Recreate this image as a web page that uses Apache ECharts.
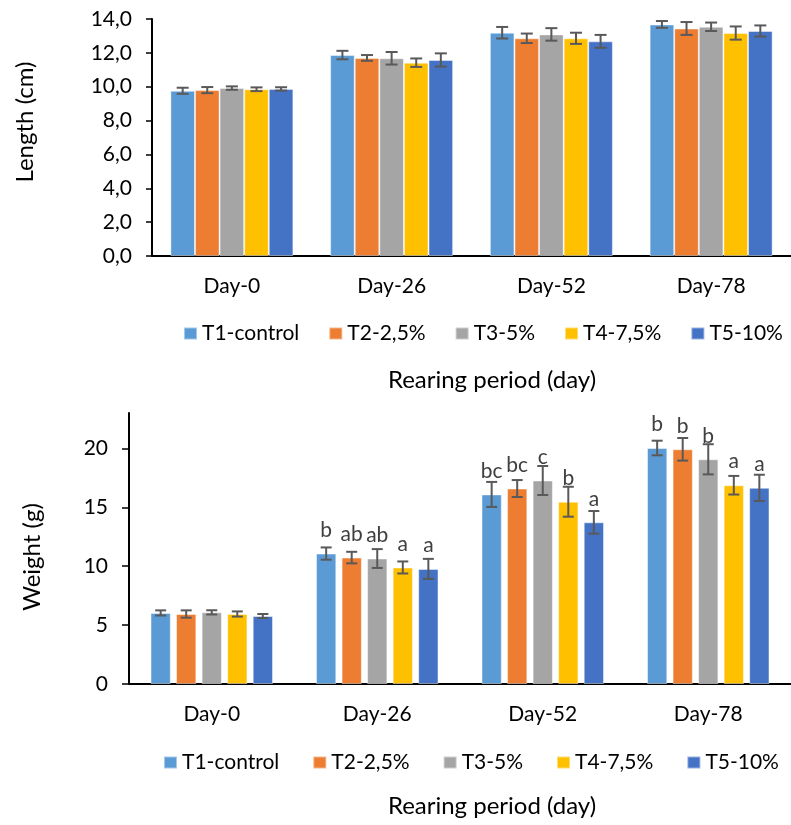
<!DOCTYPE html>
<html>
<head>
<meta charset="utf-8">
<script src="https://cdn.jsdelivr.net/npm/echarts@6/dist/echarts.min.js"></script>
<style>
  html, body { margin: 0; padding: 0; background: #fff; overflow: hidden; }
  #chart { width: 791px; height: 825px; }
</style>
</head>
<body>
<div id="chart"></div>
<script>
// ---------- DATA ----------
const categories = ['Day-0', 'Day-26', 'Day-52', 'Day-78'];
const treatments = ['T1-control', 'T2-2,5%', 'T3-5%', 'T4-7,5%', 'T5-10%'];

// Length (cm): means and error bars
const lengthT1 = [9.76, 11.87, 13.19, 13.68];
const lengthT2 = [9.80, 11.70, 12.86, 13.44];
const lengthT3 = [9.92, 11.68, 13.09, 13.54];
const lengthT4 = [9.85, 11.42, 12.86, 13.17];
const lengthT5 = [9.87, 11.58, 12.68, 13.29];
const lengthErrT1 = [0.18, 0.25, 0.34, 0.20];
const lengthErrT2 = [0.18, 0.17, 0.28, 0.38];
const lengthErrT3 = [0.10, 0.37, 0.37, 0.25];
const lengthErrT4 = [0.11, 0.25, 0.33, 0.39];
const lengthErrT5 = [0.10, 0.39, 0.38, 0.33];

// Weight (g): means and error bars
const weightT1 = [6.03, 11.07, 16.09, 20.03];
const weightT2 = [5.94, 10.73, 16.59, 19.92];
const weightT3 = [6.08, 10.65, 17.27, 19.07];
const weightT4 = [5.94, 9.89, 15.47, 16.87];
const weightT5 = [5.77, 9.77, 13.72, 16.65];
const weightErrT1 = [0.22, 0.52, 1.06, 0.62];
const weightErrT2 = [0.31, 0.49, 0.72, 0.96];
const weightErrT3 = [0.18, 0.80, 1.23, 1.28];
const weightErrT4 = [0.22, 0.51, 1.27, 0.79];
const weightErrT5 = [0.17, 0.85, 0.96, 1.11];

// Significance letters (weight)
const lettersT1 = ['', 'b', 'bc', 'b'];
const lettersT2 = ['', 'ab', 'bc', 'b'];
const lettersT3 = ['', 'ab', 'c', 'b'];
const lettersT4 = ['', 'a', 'b', 'a'];
const lettersT5 = ['', 'a', 'a', 'a'];

// Tick labels
const lengthTickValues = [0, 2, 4, 6, 8, 10, 12, 14];
const lengthTickLabels = ['0,0', '2,0', '4,0', '6,0', '8,0', '10,0', '12,0', '14,0'];
const weightTickValues = [0, 5, 10, 15, 20];
const weightTickLabels = ['0', '5', '10', '15', '20'];

const xTitle = 'Rearing period (day)';
const lengthTitle = 'Length (cm)';
const weightTitle = 'Weight (g)';

// ---------- STYLE ----------
const COLORS = ['#5B9BD5', '#ED7D31', '#A5A5A5', '#FFC000', '#4472C4'];
const FONT = 'Lato, "Noto Sans", sans-serif';
const ERR_COLOR = '#595959';

const lengthMeans = [lengthT1, lengthT2, lengthT3, lengthT4, lengthT5];
const lengthErrs = [lengthErrT1, lengthErrT2, lengthErrT3, lengthErrT4, lengthErrT5];
const weightMeans = [weightT1, weightT2, weightT3, weightT4, weightT5];
const weightErrs = [weightErrT1, weightErrT2, weightErrT3, weightErrT4, weightErrT5];
const weightLetters = [lettersT1, lettersT2, lettersT3, lettersT4, lettersT5];

const TOP = { catGap: 0.23, gap: 0, cap: 6 };
const BOT = { catGap: 0.26, gap: 0.26, cap: 5.5 };

function barSeries(s, values, axisIdx, cfg, letters) {
  const o = {
    type: 'bar',
    name: treatments[s],
    xAxisIndex: axisIdx, yAxisIndex: axisIdx,
    data: values,
    barGap: (cfg.gap * 100) + '%',
    barCategoryGap: (cfg.catGap * 100) + '%',
    itemStyle: { color: COLORS[s], borderColor: 'rgba(255,255,255,0.45)', borderWidth: 1 },
    emphasis: { disabled: true },
    animation: false
  };
  if (letters) {
    o.label = {
      show: true, position: 'top', distance: 13,
      fontFamily: FONT, fontSize: 21, color: '#404040',
      formatter: p => letters[p.dataIndex]
    };
  }
  return o;
}

function errSeries(s, means, errs, axisIdx, cfg) {
  return {
    type: 'custom',
    name: treatments[s],
    xAxisIndex: axisIdx, yAxisIndex: axisIdx,
    data: means.map((m, i) => [i, m, errs[i]]),
    encode: { x: 0, y: 1 },
    itemStyle: { color: COLORS[s] },
    silent: true, animation: false, z: 5,
    renderItem: (params, api) => {
      const cat = api.value(0), m = api.value(1), e = api.value(2);
      const band = api.size([1, 0])[0];
      const bw = band * (1 - cfg.catGap) / (5 + 4 * cfg.gap);
      const pitch = bw * (1 + cfg.gap);
      const cx = api.coord([cat, m])[0] + (s - 2) * pitch;
      const yt = api.coord([cat, m + e])[1];
      const yb = api.coord([cat, m - e])[1];
      const st = { stroke: ERR_COLOR, lineWidth: 2 };
      return {
        type: 'group',
        children: [
          { type: 'line', shape: { x1: cx, y1: yt, x2: cx, y2: yb }, style: st },
          { type: 'line', shape: { x1: cx - cfg.cap, y1: yt, x2: cx + cfg.cap, y2: yt }, style: st },
          { type: 'line', shape: { x1: cx - cfg.cap, y1: yb, x2: cx + cfg.cap, y2: yb }, style: st }
        ]
      };
    }
  };
}

const series = [];
for (let s = 0; s < 5; s++) series.push(barSeries(s, lengthMeans[s], 0, TOP, null));
for (let s = 0; s < 5; s++) series.push(barSeries(s, weightMeans[s], 1, BOT, weightLetters[s]));
for (let s = 0; s < 5; s++) series.push(errSeries(s, lengthMeans[s], lengthErrs[s], 0, TOP));
for (let s = 0; s < 5; s++) series.push(errSeries(s, weightMeans[s], weightErrs[s], 1, BOT));

const axisLineStyle = { show: true, lineStyle: { color: '#000', width: 2 } };
const labelStyle = { fontFamily: FONT, fontSize: 21, color: '#000' };

const option = {
  animation: false,
  textStyle: { fontFamily: FONT },
  color: COLORS,
  grid: [
    { left: 152, right: -9, top: 19, height: 237 },
    { left: 129, right: -12, top: 413, height: 271 }
  ],
  xAxis: [
    {
      type: 'category', gridIndex: 0, data: categories,
      axisLine: axisLineStyle, axisTick: { show: false },
      axisLabel: Object.assign({ margin: 20 }, labelStyle)
    },
    {
      type: 'category', gridIndex: 1, data: categories,
      axisLine: axisLineStyle, axisTick: { show: false },
      axisLabel: Object.assign({ margin: 20 }, labelStyle)
    }
  ],
  yAxis: [
    {
      type: 'value', gridIndex: 0, min: 0, max: 14, interval: 2,
      axisLine: axisLineStyle,
      axisTick: { show: true, length: 6, lineStyle: { color: '#000', width: 1.5 } },
      splitLine: { show: false },
      axisLabel: Object.assign({
        margin: 20,
        formatter: v => lengthTickLabels[lengthTickValues.indexOf(v)]
      }, labelStyle)
    },
    {
      type: 'value', gridIndex: 1, min: 0, max: 23,
      axisLine: axisLineStyle,
      axisTick: { show: true, length: 7, customValues: weightTickValues, lineStyle: { color: '#000', width: 1.5 } },
      splitLine: { show: false },
      axisLabel: Object.assign({
        margin: 21,
        customValues: weightTickValues,
        formatter: v => weightTickLabels[weightTickValues.indexOf(v)]
      }, labelStyle)
    }
  ],
  legend: [
    {
      data: treatments, left: 183, top: 323, padding: 0, width: 640,
      itemWidth: 13, itemHeight: 12, itemGap: 29, icon: 'rect',
      textStyle: { fontFamily: FONT, fontSize: 21, color: '#000' },
      selectedMode: false
    },
    {
      data: treatments, left: 163, top: 752, padding: 0, width: 660,
      itemWidth: 13, itemHeight: 12, itemGap: 33, icon: 'rect',
      textStyle: { fontFamily: FONT, fontSize: 21, color: '#000' },
      selectedMode: false
    }
  ],
  graphic: [
    { type: 'text', x: 25, y: 122, rotation: Math.PI / 2,
      style: { text: lengthTitle, font: '24px ' + FONT, fill: '#000', align: 'center', verticalAlign: 'middle', textAlign: 'center', textVerticalAlign: 'middle' } },
    { type: 'text', x: 32, y: 557, rotation: Math.PI / 2,
      style: { text: weightTitle, font: '24px ' + FONT, fill: '#000', align: 'center', verticalAlign: 'middle', textAlign: 'center', textVerticalAlign: 'middle' } },
    { type: 'text', x: 492, y: 380,
      style: { text: xTitle, font: '24px ' + FONT, fill: '#000', align: 'center', verticalAlign: 'middle', textAlign: 'center', textVerticalAlign: 'middle' } },
    { type: 'text', x: 492, y: 806,
      style: { text: xTitle, font: '24px ' + FONT, fill: '#000', align: 'center', verticalAlign: 'middle', textAlign: 'center', textVerticalAlign: 'middle' } }
  ],
  series: series
};

const chart = echarts.init(document.getElementById('chart'), null, { renderer: 'canvas' });
chart.setOption(option);
</script>
</body>
</html>
